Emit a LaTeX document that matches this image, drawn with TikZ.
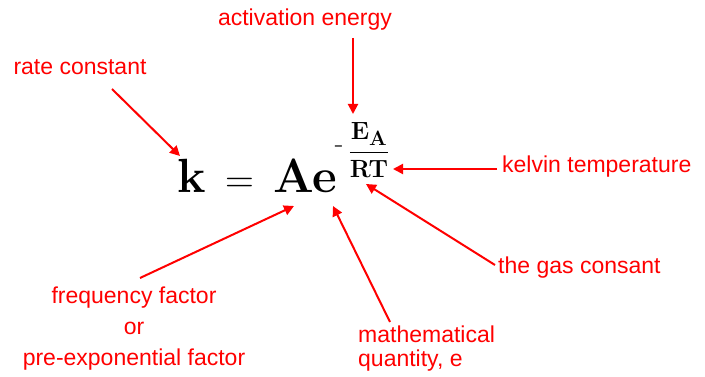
\documentclass[tikz,border=0pt]{standalone}
\usepackage{fontspec}
\setmainfont{Latin Modern Roman}
\newfontfamily\lblfont{Liberation Sans}
\usetikzlibrary{arrows.meta, positioning}

\begin{document}
\begin{tikzpicture}[
    x=1pt, y=-1pt,
    lbl/.style={text=red, inner sep=0pt, font=\lblfont\fontsize{23}{31}\selectfont},
    eqn/.style={inner sep=0pt, anchor=base, font=\fontsize{48}{48}\selectfont\bfseries},
    expo/.style={inner sep=0pt, font=\fontsize{28}{28}\selectfont\boldmath},
    arrow/.style={-{Triangle[length=10pt, width=10pt]}, red, line width=2pt}
]
\useasboundingbox (0,0) rectangle (705,377);

% Equation
\node[eqn] (k) at (192,193) {k};
\node[eqn, font=\fontsize{40}{40}\selectfont] (eq) at (240,193) {=};
\node[eqn] (Ae) at (305,193) {Ae};
\node[expo] (minus) at (339,149) {-};
\node[expo] (frac) at (369,150) {$\displaystyle\frac{\mathbf{E_A}}{\mathbf{RT}}$};

% Labels
\node[lbl] (rate) at (80,67) {rate constant};
\node[lbl] (act) at (305,20) {activation energy};
\node[lbl, anchor=west] (kelvin) at (502,167) {kelvin temperature};
\node[lbl, anchor=west] (gas) at (498,268) {the gas consant};
\node[lbl, align=center, anchor=north] (freq) at (134,287) {frequency factor\\or\\pre-exponential factor};
\node[lbl, align=left, anchor=north west, font=\lblfont\fontsize{23}{24}\selectfont] (math) at (358,326) {mathematical\\quantity, e};

% Arrow ends
\coordinate (rateTail) at (112,89);
\coordinate (rateTip) at (180,156);
\coordinate (actTail) at (353,38);
\coordinate (actTip) at (353,114);
\coordinate (kelvinTip) at (393,169);
\coordinate (gasTip) at (366,184);
\coordinate (freqTail) at (140,278);
\coordinate (freqTip) at (294,206);
\coordinate (mathTail) at (390,322);
\coordinate (mathTip) at (333,206);

% Arrows
\draw[arrow] (rateTail) -- (rateTip);
\draw[arrow] (actTail) -- (actTip);
\draw[arrow] (kelvin.west) ++(-5,2) -- (kelvinTip);
\draw[arrow] (gas.west) ++(-3,-3) -- (gasTip);
\draw[arrow] (freqTail) -- (freqTip);
\draw[arrow] (mathTail) -- (mathTip);

\end{tikzpicture}
\end{document}
